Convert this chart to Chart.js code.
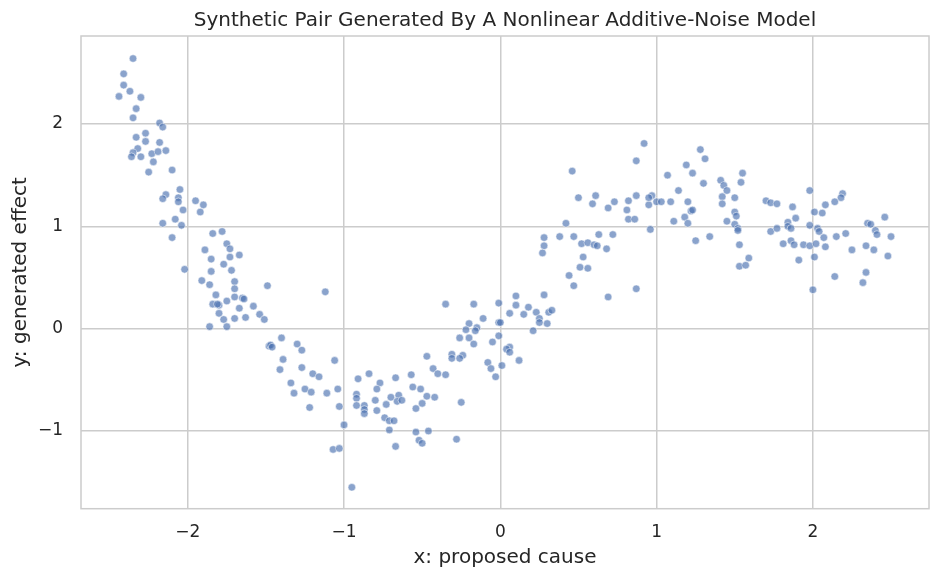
<!DOCTYPE html>
<html lang="en">
  <head>
    <meta charset="UTF-8" />
    <title>Synthetic Pair Generated By A Nonlinear Additive-Noise Model</title>
    <script src="https://cdn.jsdelivr.net/npm/chart.js@4"></script>
    <style>
      html, body { margin: 0; background: #fff; }
    </style>
  </head>
  <body>
    <canvas id="myChart" width="940" height="580"></canvas>

    <script>
      // values, one pair per point
      const xTicks = [-2, -1, 0, 1, 2]
      const yTicks = [-1, 0, 1, 2]

      const cause = [
        -2.35, -2.41, -2.41, -2.37, -2.44, -2.30, -2.33, -2.35, -2.18, -2.16,
        -2.33, -2.27, -2.27, -2.18, -2.32, -2.35, -2.36, -2.30, -2.23, -2.19,
        -2.14, -2.22, -2.25, -2.10, -2.05, -2.14, -2.16, -2.06, -2.06, -1.95,
        -1.90, -2.03, -1.92, -2.08, -2.16, -2.04, -2.10, -1.84, -1.78, -1.75,
        -1.73, -1.89, -1.85, -1.73, -1.67, -1.77, -2.02, -1.85, -1.72, -1.91,
        -1.86, -1.70, -1.70, -1.49, -1.82, -1.70, -1.65, -1.64, -1.75, -1.84,
        -1.80, -1.81, -1.58, -1.67, -1.54, -1.80, -1.51, -1.77, -1.70, -1.63,
        -1.86, -1.75, -1.40, -1.48, -1.47, -1.46, -1.30,
        -1.27, -1.39, -1.41, -1.27, -1.06, -1.20, -1.16, -1.34, -1.32, -1.25,
        -1.21, -1.11, -1.04, -1.22, -1.03, -1.00, -1.07, -1.03, -0.95, -0.91,
        -0.84, -0.77, -0.67, -0.79, -0.92, -0.92, -0.92, -0.87, -0.87, -0.87,
        -0.80, -0.79, -0.73, -0.70, -0.65, -0.66, -0.74, -0.71, -0.68, -0.71,
        -0.67, -1.12,
        -0.35, -0.17, -0.01, 0.10, 0.10, 0.06, 0.15, 0.18, -0.11, -0.20,
        -0.22, -0.15, -0.16, -0.01, 0.00, -0.01, -0.26, -0.20, -0.17, -0.05,
        0.06, 0.04, 0.06, 0.12, -0.31, -0.31, -0.24, -0.26, -0.47, -0.08,
        -0.06, 0.01, -0.03, -0.43, -0.40, -0.35, -0.57, -0.56, -0.51, -0.47,
        -0.42, -0.50, -0.54, -0.25, -0.63, -0.54, -0.46, -0.52, -0.50, -0.28,
        0.87, 0.46, 0.50, 0.61, 0.59, 0.73, 0.69, 0.82, 0.81, 0.87,
        0.82, 0.86, 0.97, 0.95, 1.00, 0.96, 0.42, 0.28, 0.38, 0.47,
        0.63, 0.72, 0.52, 0.56, 0.60, 0.62, 0.68, 0.28, 0.27, 0.53,
        0.51, 0.56, 0.44, 0.47, 0.87, 0.69, 0.28, 0.23, 0.25, 0.25,
        0.31, 0.33, 0.30, 0.21,
        0.92, 1.28, 1.31, 1.19, 1.23, 1.07, 1.30, 1.14, 0.95, 1.03,
        1.09, 1.20, 1.22, 1.23, 1.18, 1.20, 1.11, 1.25, 1.34, 1.41,
        1.43, 1.45, 1.55, 1.54, 1.42, 1.50, 1.42, 1.50, 1.51, 1.45,
        1.50, 1.52, 1.52, 1.53, 1.59, 1.53, 1.57, 1.70, 1.73, 1.77,
        1.73, 1.77,
        1.98, 2.19, 2.18, 2.14, 2.08, 2.06, 2.01, 1.87, 1.89, 1.84,
        1.84, 1.86, 1.98, 2.03, 2.04, 2.07, 2.15, 2.21, 1.86, 1.81,
        1.88, 1.94, 1.98, 2.02, 2.08, 1.91, 2.01, 2.25, 2.14, 2.00,
        2.35, 2.37, 2.40, 2.41, 2.46, 2.50, 2.34, 2.39, 2.48, 2.34,
        2.32
      ]

      const effect = [
        2.64, 2.49, 2.38, 2.32, 2.27, 2.26, 2.15, 2.06, 2.01, 1.97,
        1.87, 1.91, 1.83, 1.82, 1.76, 1.72, 1.68, 1.68, 1.71, 1.73,
        1.74, 1.63, 1.53, 1.55, 1.36, 1.31, 1.27, 1.28, 1.24, 1.25,
        1.21, 1.16, 1.14, 1.07, 1.03, 1.01, 0.89, 0.93, 0.95, 0.83,
        0.78, 0.77, 0.68, 0.70, 0.72, 0.63, 0.58, 0.56, 0.57, 0.47,
        0.43, 0.46, 0.39, 0.42, 0.33, 0.31, 0.30, 0.29, 0.27, 0.24,
        0.23, 0.24, 0.22, 0.20, 0.14, 0.15, 0.09, 0.09, 0.10, 0.11,
        0.02, 0.02, -0.09, -0.17, -0.16, -0.18, -0.15,
        -0.21, -0.30, -0.40, -0.38, -0.31, -0.44, -0.47, -0.53, -0.63, -0.59,
        -0.62, -0.63, -0.59, -0.77, -0.76, -0.94, -1.18, -1.17, -1.55, -0.49,
        -0.44, -0.53, -0.48, -0.59, -0.64, -0.68, -0.75, -0.75, -0.79, -0.83,
        -0.70, -0.80, -0.74, -0.67, -0.65, -0.71, -0.87, -0.90, -0.90, -0.99,
        -1.15, 0.36,
        0.24, 0.24, 0.25, 0.32, 0.23, 0.15, 0.14, 0.21, 0.10, 0.05,
        -0.01, 0.01, -0.02, 0.06, 0.06, -0.07, -0.09, -0.09, -0.15, -0.13,
        -0.18, -0.20, -0.23, -0.31, -0.25, -0.29, -0.26, -0.29, -0.27, -0.33,
        -0.39, -0.36, -0.47, -0.39, -0.44, -0.45, -0.45, -0.57, -0.59, -0.66,
        -0.67, -0.73, -0.78, -0.72, -0.70, -1.01, -1.00, -1.09, -1.12, -1.08,
        1.64, 1.54, 1.28, 1.30, 1.22, 1.24, 1.18, 1.25, 1.16, 1.30,
        1.07, 1.07, 1.30, 1.21, 1.24, 0.97, 1.03, 0.89, 0.90, 0.90,
        0.92, 0.92, 0.83, 0.84, 0.82, 0.81, 0.78, 0.81, 0.74, 0.70,
        0.60, 0.59, 0.52, 0.42, 0.39, 0.31, 0.33, 0.16, 0.10, 0.06,
        0.16, 0.18, 0.05, -0.02,
        1.81, 1.75, 1.66, 1.60, 1.52, 1.50, 1.42, 1.35, 1.28, 1.24,
        1.24, 1.24, 1.15, 1.16, 1.09, 1.03, 1.05, 0.86, 0.90, 1.45,
        1.40, 1.35, 1.52, 1.43, 1.29, 1.28, 1.22, 1.14, 1.10, 1.05,
        1.02, 0.98, 0.96, 0.82, 0.69, 0.61, 0.62, 1.25, 1.23, 1.22,
        0.95, 0.98,
        1.35, 1.32, 1.28, 1.24, 1.21, 1.13, 1.14, 1.19, 1.08, 1.04,
        1.00, 0.98, 1.01, 0.98, 0.95, 0.89, 0.90, 0.93, 0.86, 0.83,
        0.82, 0.82, 0.81, 0.83, 0.80, 0.67, 0.70, 0.77, 0.51, 0.38,
        1.03, 1.02, 0.96, 0.92, 1.09, 0.90, 0.81, 0.77, 0.71, 0.55,
        0.45
      ]

      const xLimits = [-2.683, 2.743]
      const yLimits = [-1.759, 2.86]

      const ink = '#262626'
      const gridGray = '#cccccc'

      Chart.defaults.font.family = "'DejaVu Sans', sans-serif"
      Chart.defaults.color = ink

      // minus sign like matplotlib
      const fmt = v => (v < 0 ? '\u2212' + Math.abs(v) : String(v))

      // box around the plot area (top and right spines)
      const frame = {
        id: 'frame',
        beforeDatasetsDraw(chart) {
          const { ctx, chartArea: a } = chart
          ctx.save()
          ctx.strokeStyle = gridGray
          ctx.lineWidth = 1.5
          ctx.strokeRect(a.left, a.top, a.right - a.left, a.bottom - a.top)
          ctx.restore()
        }
      }

      const points = cause.map((x, i) => ({ x: x, y: effect[i] }))

      const ctx = document.getElementById('myChart').getContext('2d')
      const myChart = new Chart(ctx, {
        type: 'scatter',
        data: {
          datasets: [{
            data: points,
            pointRadius: 3.8,
            pointHoverRadius: 3.8,
            backgroundColor: 'rgba(76, 114, 176, 0.65)',
            borderColor: 'rgba(255, 255, 255, 0.7)',
            borderWidth: 0.75
          }]
        },
        options: {
          responsive: false,
          animation: false,
          layout: { padding: { left: 0, right: 11, top: 0, bottom: 0 } },
          plugins: {
            legend: { display: false },
            tooltip: { enabled: false },
            title: {
              display: true,
              text: 'Synthetic Pair Generated By A Nonlinear Additive-Noise Model',
              fullSize: false,
              color: ink,
              font: { size: 20, weight: 'normal' },
              padding: { top: 8.5, bottom: 3.5 }
            }
          },
          scales: {
            x: {
              type: 'linear',
              min: xLimits[0],
              max: xLimits[1],
              afterBuildTicks: s => { s.ticks = xTicks.map(v => ({ value: v })) },
              afterFit: s => { s.height = 71.3 },
              grid: { color: gridGray, lineWidth: 1.5, drawTicks: false },
              border: { display: false },
              ticks: { padding: 14, color: ink, font: { size: 17 }, callback: fmt },
              title: {
                display: true,
                text: 'x: proposed cause',
                color: ink,
                font: { size: 20 },
                padding: { top: 0, bottom: 10.5 }
              }
            },
            y: {
              type: 'linear',
              min: yLimits[0],
              max: yLimits[1],
              afterBuildTicks: s => { s.ticks = yTicks.map(v => ({ value: v })) },
              afterFit: s => { s.width = 81 },
              grid: { color: gridGray, lineWidth: 1.5, drawTicks: false },
              border: { display: false },
              ticks: { padding: 18, color: ink, font: { size: 17 }, callback: fmt },
              title: {
                display: true,
                text: 'y: generated effect',
                color: ink,
                font: { size: 20 },
                padding: { top: 9, bottom: 0 }
              }
            }
          }
        },
        plugins: [frame]
      })
    </script>
  </body>
</html>
